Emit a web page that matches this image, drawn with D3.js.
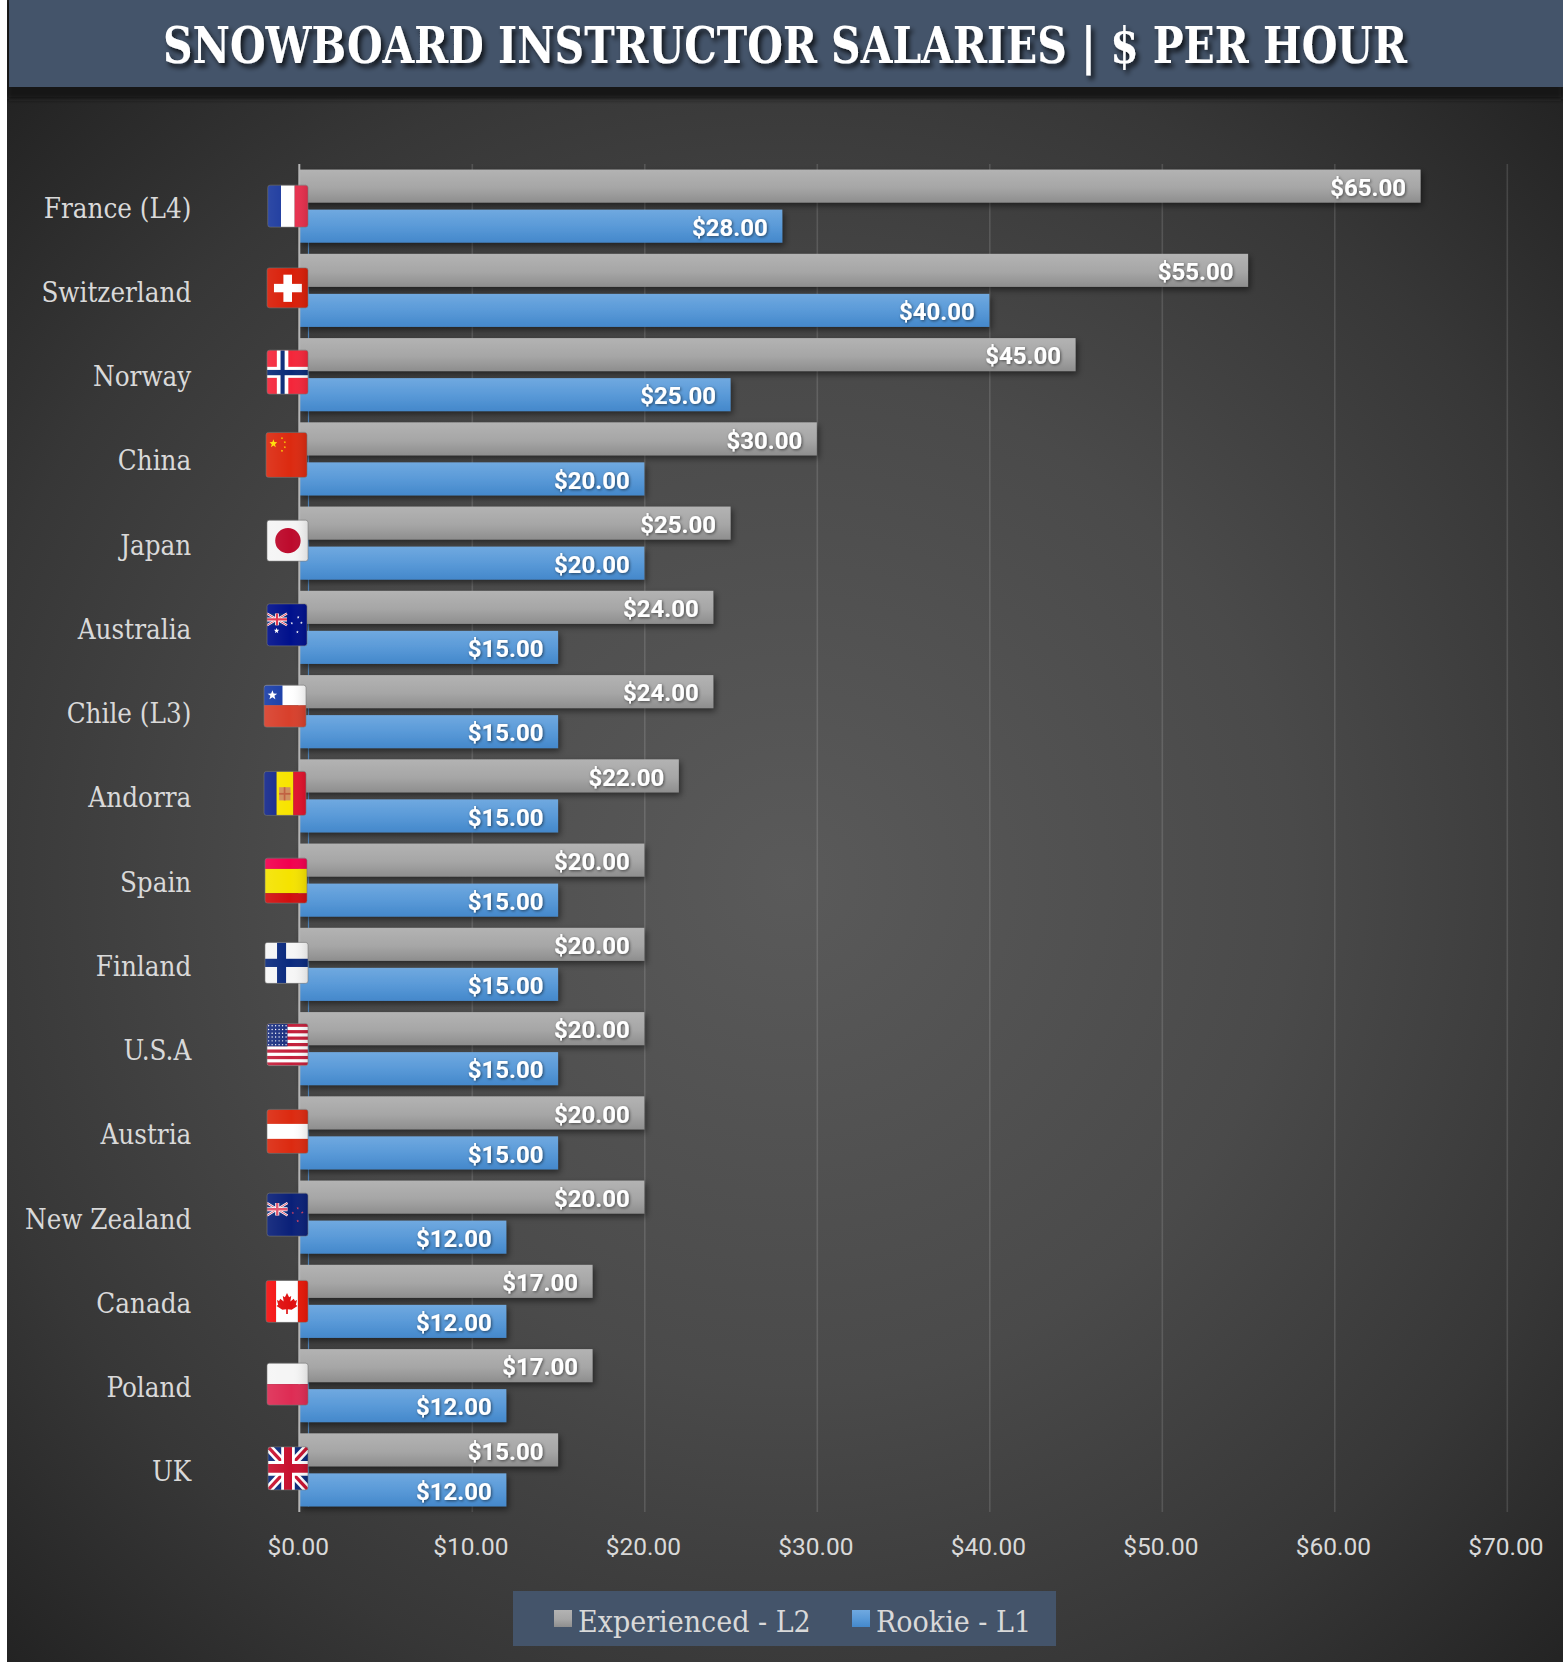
<!DOCTYPE html>
<html><head><meta charset="utf-8">
<script src="https://cdnjs.cloudflare.com/ajax/libs/d3/7.8.5/d3.min.js"></script>
<style>
html,body{margin:0;padding:0;background:#fff}
svg{display:block}
.cat text{font-family:"DejaVu Serif Condensed","DejaVu Serif",serif;fill:#d9d9d9;font-size:27.5px}
.xt text{font-family:Roboto,sans-serif;fill:#d9d9d9;font-size:24.5px}
.lab{font-family:Roboto,sans-serif;font-weight:700;font-size:24px;fill:#fff}
.leg{font-family:"DejaVu Serif Condensed","DejaVu Serif",serif;fill:#d9d9d9;font-size:30px}
</style></head><body>
<svg id="c" width="1566" height="1662"></svg>
<script>
const categories=["France (L4)","Switzerland","Norway","China","Japan","Australia","Chile (L3)","Andorra","Spain","Finland","U.S.A","Austria","New Zealand","Canada","Poland","UK"];
const experienced=[65,55,45,30,25,24,24,22,20,20,20,20,20,17,17,15];
const rookie=[28,40,25,20,20,15,15,15,15,15,15,15,12,12,12,12];
const seriesNames=["Experienced - L2","Rookie - L1"];
const xTicks=[0,10,20,30,40,50,60,70];
const titleText="SNOWBOARD INSTRUCTOR SALARIES | $ PER HOUR";

const W=1566,H=1662;
const svg=d3.select("#c");
const defs=svg.append("defs");
function lin(id,stops,horizontal){
  const g=defs.append("linearGradient").attr("id",id).attr("x1",0).attr("y1",0).attr("x2",horizontal?1:0).attr("y2",horizontal?0:1);
  stops.forEach(s=>g.append("stop").attr("offset",s[0]).attr("stop-color",s[1]).attr("stop-opacity",s[2]===undefined?1:s[2]));
}
lin("gGray",[[0,"#b3b3b3"],[0.55,"#a6a6a6"],[1,"#8e8e8e"]]);
lin("gBlue",[[0,"#70a9e0"],[0.5,"#5a9ad8"],[1,"#4488cb"]]);
lin("gGloss",[[0,"#fff",0.08],[0.6,"#fff",0],[1,"#000",0.1]],true);
const bg=defs.append("radialGradient").attr("id","gBg").attr("gradientUnits","userSpaceOnUse").attr("cx",790).attr("cy",880).attr("r",1120);
[[0,"#5a5a5a"],[0.45,"#4a4a4a"],[0.75,"#373737"],[1,"#222"]].forEach(s=>bg.append("stop").attr("offset",s[0]).attr("stop-color",s[1]));
function shadow(id,dx,dy,sd,op){
  const f=defs.append("filter").attr("id",id).attr("x","-10%").attr("y","-30%").attr("width","125%").attr("height","170%");
  f.append("feDropShadow").attr("dx",dx).attr("dy",dy).attr("stdDeviation",sd).attr("flood-color","#000").attr("flood-opacity",op);
}
shadow("sBar",2,3,3,0.5);
shadow("sLab",1,1,1.4,0.55);
shadow("sTitle",3,4,2.5,0.75);
const hb=defs.append("filter").attr("id","blur").attr("x","-2%").attr("y","-20%").attr("width","104%").attr("height","140%");
hb.append("feGaussianBlur").attr("stdDeviation",2.5);

svg.append("rect").attr("x",7).attr("y",0).attr("width",1556).attr("height",H).attr("fill","url(#gBg)");

// header
svg.append("rect").attr("x",7).attr("y",0).attr("width",1556).attr("height",99).attr("fill","#141414").attr("filter","url(#blur)");
svg.append("rect").attr("x",0).attr("y",0).attr("width",7).attr("height",110).attr("fill","#fff");
svg.append("rect").attr("x",1563).attr("y",0).attr("width",3).attr("height",110).attr("fill","#fff");
svg.append("rect").attr("x",9).attr("y",0).attr("width",1554).attr("height",87).attr("fill","#44546a");
svg.append("text").attr("x",785).attr("y",63).attr("text-anchor","middle")
  .attr("font-family",'"DejaVu Serif Condensed","DejaVu Serif",serif').attr("font-weight",700).attr("font-size",51)
  .attr("textLength",1244).attr("lengthAdjust","spacingAndGlyphs").attr("fill","#fff").attr("filter","url(#sTitle)").text(titleText);

// scales
const x=d3.scaleLinear().domain([0,70]).range([299.3,1506.8]);
const y=d3.scaleBand().domain(categories).range([164,1512]);
const ySub=d3.scaleBand().domain(seriesNames).range([0,y.bandwidth()]).paddingInner(0.175).paddingOuter(0.14);

// grid
const grid=svg.append("g").attr("transform","translate(0,1512)").call(d3.axisBottom(x).tickValues(xTicks.slice(1)).tickSize(-1348).tickFormat(""));
grid.select(".domain").remove();
grid.selectAll("line").attr("stroke","#fff").attr("stroke-opacity",0.13).attr("stroke-width",1.6);

// thin blue line
svg.append("line").attr("x1",308.5).attr("x2",308.5).attr("y1",y(categories[0])+ySub(seriesNames[1])).attr("y2",y(categories[15])+ySub(seriesNames[1])+ySub.bandwidth())
  .attr("stroke","#4f86bd").attr("stroke-width",1.2);

// bars
const rows=categories.map((c,i)=>({c,v:[experienced[i],rookie[i]]}));
const series=svg.append("g");
seriesNames.forEach((s,k)=>{
  series.append("g").selectAll("rect").data(rows).join("rect")
    .attr("x",x(0)).attr("y",d=>y(d.c)+ySub(s)).attr("width",d=>x(d.v[k])-x(0)).attr("height",ySub.bandwidth())
    .attr("fill",k?"url(#gBlue)":"url(#gGray)").attr("filter","url(#sBar)");
});
svg.append("line").attr("x1",x(0)).attr("x2",x(0)).attr("y1",164).attr("y2",1512).attr("stroke","#b5b5b5").attr("stroke-width",2);
seriesNames.forEach((s,k)=>{
  svg.append("g").selectAll("text").data(rows).join("text").attr("class","lab")
    .attr("x",d=>x(d.v[k])-14.5).attr("y",d=>y(d.c)+ySub(s)+ySub.bandwidth()/2+1).attr("dy","0.36em").attr("text-anchor","end")
    .attr("filter","url(#sLab)").text(d=>d3.format("$.2f")(d.v[k]));
});

// axes
const xa=svg.append("g").attr("class","xt").attr("transform","translate(0,1512)")
  .call(d3.axisBottom(x).tickValues(xTicks).tickSize(0).tickPadding(26).tickFormat(d3.format("$.2f")));
xa.select(".domain").remove();
xa.selectAll("text").attr("dx",-1.5);
const ya=svg.append("g").attr("class","cat").attr("transform",`translate(${x(0)},0)`)
  .call(d3.axisLeft(y).tickSize(0).tickPadding(108));
ya.select(".domain").remove();
ya.selectAll("text").attr("dy","0.42em");

// flags (decorative, painted in a 0..100 unit box)
const R=(g,a,b,w,h,f)=>g.append("rect").attr("x",a).attr("y",b).attr("width",w).attr("height",h).attr("fill",f);
const P=(g,pts,f)=>g.append("polygon").attr("points",pts).attr("fill",f);
function star(g,cx,cy,r,f){
  const pts=d3.range(10).map(i=>{const a=-Math.PI/2+i*Math.PI/5,q=i%2?r*0.42:r;return [cx+q*Math.cos(a),cy+q*Math.sin(a)].join(",")}).join(" ");
  P(g,pts,f);
}
function jack(g,w,h,red){
  R(g,0,0,w,h,"#0a2a7a");
  const sw=(a,b,c,d,col,wd)=>g.append("line").attr("x1",a).attr("y1",b).attr("x2",c).attr("y2",d).attr("stroke",col).attr("stroke-width",wd);
  sw(0,0,w,h,"#fff",h*0.2);sw(w,0,0,h,"#fff",h*0.2);
  sw(0,0,w,h,red,h*0.08);sw(w,0,0,h,red,h*0.08);
  sw(w/2,0,w/2,h,"#fff",h*0.34);sw(0,h/2,w,h/2,"#fff",h*0.34);
  sw(w/2,0,w/2,h,red,h*0.2);sw(0,h/2,w,h/2,red,h*0.2);
}
const painters={
 "France (L4)":g=>{R(g,0,0,33,100,"#1c3a9e");R(g,33,0,34,100,"#fff");R(g,67,0,33,100,"#e8304e");},
 "Switzerland":g=>{R(g,0,0,100,100,"#d91e08");R(g,17,40,68,21,"#fff");R(g,40,17,21,68,"#fff");},
 "Norway":g=>{R(g,0,0,100,100,"#f4263a");R(g,24,0,28,100,"#fff");R(g,0,38,100,25,"#fff");R(g,33,0,10,100,"#0a2a78");R(g,0,45,100,12,"#0a2a78");},
 "China":g=>{R(g,0,0,100,100,"#dc2a10");star(g,18,25,10,"#ffe000");[[39,13],[46,22],[46,33],[39,41]].forEach(p=>star(g,p[0],p[1],3,"#ffe000"));},
 "Japan":g=>{R(g,0,0,100,100,"#f5f5f5");g.append("circle").attr("cx",51).attr("cy",50).attr("r",31).attr("fill","#bd0a2c");},
 "Australia":g=>{R(g,0,0,100,100,"#00108c");jack(g.append("g").attr("transform","translate(0,23)"),50,28,"#e0304a");[[78,32],[62,46],[86,45],[76,67]].forEach(p=>star(g,p[0],p[1],3.5,"#fff"));star(g,24,64,7,"#fff");},
 "Chile (L3)":g=>{R(g,0,0,100,48,"#fff");R(g,0,0,44,48,"#1a3ea8");R(g,0,48,100,52,"#d8402c");star(g,20,24,12,"#fff");},
 "Andorra":g=>{R(g,0,0,30,100,"#14288c");R(g,30,0,40,100,"#f8e400");R(g,70,0,30,100,"#e2122c");R(g,36,36,27,30,"#d09060");R(g,47,36,4,30,"#c06040");R(g,36,49,27,4,"#c06040");},
 "Spain":g=>{R(g,0,0,100,24,"#f2004f");R(g,0,24,100,54,"#f5e300");R(g,0,78,100,22,"#d20f0f");},
 "Finland":g=>{R(g,0,0,100,100,"#f6f6f6");R(g,28,0,21,100,"#0a2a7e");R(g,0,40,100,20,"#0a2a7e");},
 "U.S.A":g=>{R(g,0,0,100,100,"#fff");d3.range(7).forEach(i=>R(g,0,i*100/6.5,100,100/13,"#c41e3a"));R(g,0,0,50,54,"#1a2f80");
   d3.range(6).forEach(r=>d3.range(6).forEach(c=>g.append("circle").attr("cx",4+c*8.5).attr("cy",5+r*9).attr("r",1.7).attr("fill","#fff")));},
 "Austria":g=>{R(g,0,0,100,100,"#dc2a10");R(g,0,33,100,34,"#fff");},
 "New Zealand":g=>{R(g,0,0,100,100,"#0a2078");jack(g.append("g").attr("transform","translate(0,23)"),50,29,"#e0506a");[[75,35],[63,46],[86,45],[75,65]].forEach(p=>star(g,p[0],p[1],3.5,"#d84060"));},
 "Canada":g=>{R(g,0,0,24,100,"#f41010");R(g,24,0,52,100,"#fff");R(g,76,0,24,100,"#e81808");
   P(g,"50,30 55,40 60,37 58,50 66,44 69,49 74,47 71,58 75,61 61,70 52,69 52,80 48,80 48,69 39,70 25,61 29,58 26,47 31,49 34,44 42,50 40,37 45,40","#e01010");},
 "Poland":g=>{R(g,0,0,100,50,"#f5f5f5");R(g,0,50,100,50,"#de2c54");},
 "UK":g=>jack(g,100,100,"#c8102e")
};
// flag box: band-centre shift and left/right edges as they sit on the axis
const flagBoxes={"France (L4)":[0,267.7,308,42],"Switzerland":[-2.5,267,308,40],"Norway":[-2.5,267,308,44],"China":[-4,266,307,45],"Japan":[-2.5,267,308,41],"Australia":[-2.5,267,307,42],"Chile (L3)":[-5.5,264,306,42],"Andorra":[-2.5,264,306,44],"Spain":[0.5,265,307,45],"Finland":[-1.5,265,308,41],"U.S.A":[-4,267,308,42],"Austria":[-1.5,267,308,44],"New Zealand":[-2.5,267,308,43],"Canada":[0,266,308,42],"Poland":[-1.5,267,308,42],"UK":[-1.5,268,308,43]};
categories.forEach((c,i)=>{
  const b=flagBoxes[c],cy=y(c)+y.bandwidth()/2+b[0],w=b[2]-b[1],h=b[3];
  const cid="fc"+i;
  defs.append("clipPath").attr("id",cid).append("rect").attr("width",100).attr("height",100).attr("rx",6).attr("ry",6);
  const g=svg.append("g").attr("class","flag").attr("transform",`translate(${b[1]},${cy-h/2}) scale(${w/100},${h/100})`);
  const inner=g.append("g").attr("clip-path",`url(#${cid})`);
  painters[c](inner);
  inner.append("rect").attr("width",100).attr("height",100).attr("fill","url(#gGloss)");
  g.append("rect").attr("width",100).attr("height",100).attr("rx",6).attr("ry",6).attr("fill","none").attr("stroke","#777").attr("stroke-width",1.4);
});

// legend
const leg=svg.append("g");
leg.append("rect").attr("x",513).attr("y",1591).attr("width",543).attr("height",55).attr("fill","#44546a");
[[554,578,"url(#gGray)"],[852,876,"url(#gBlue)"]].forEach((d,i)=>{
  leg.append("rect").attr("x",d[0]).attr("y",1610).attr("width",18).attr("height",17).attr("fill",d[2]);
  leg.append("text").attr("class","leg").attr("x",d[1]).attr("y",1632).text(seriesNames[i]);
});
</script>
</body></html>
